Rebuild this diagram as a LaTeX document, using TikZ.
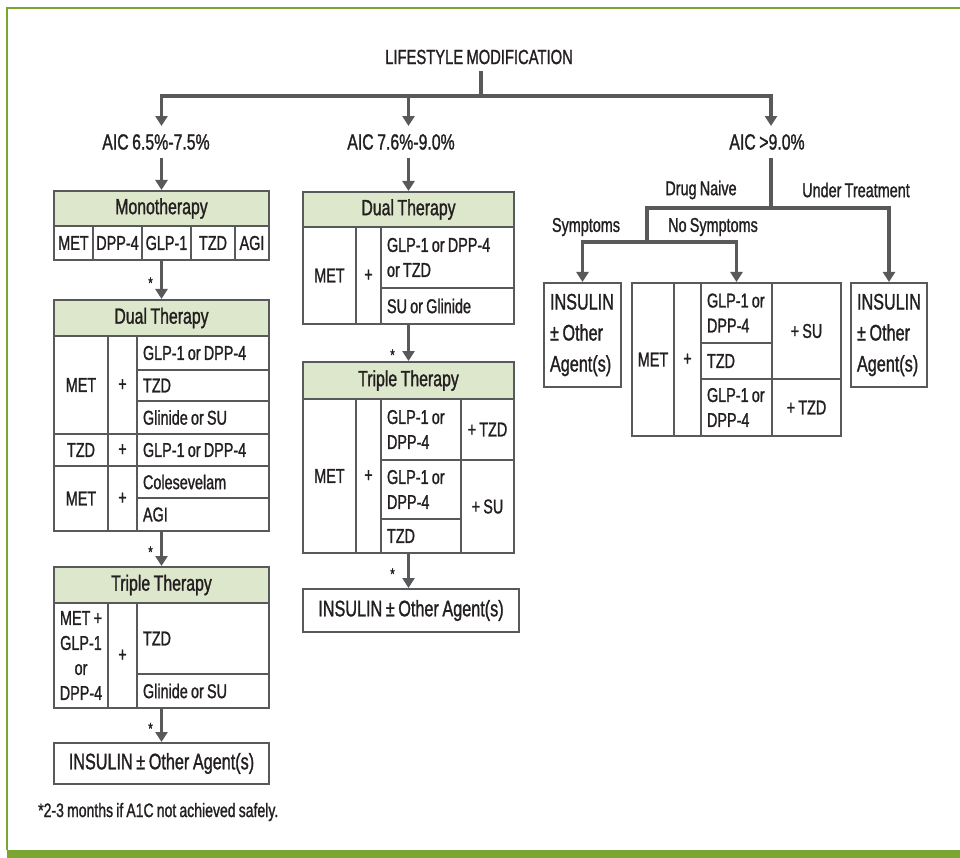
\documentclass[tikz,border=0pt]{standalone}
\usepackage{fontspec}
\setmainfont[FakeStretch=0.72,WordSpace=0.8,FakeBold=1.2]{Liberation Sans}
\usepackage{tikz}
\usetikzlibrary{arrows.meta,positioning,calc}

\definecolor{framegreen}{RGB}{122,165,48}
\definecolor{headgreen}{RGB}{221,231,203}
\definecolor{linegray}{RGB}{88,89,91}
\definecolor{textdark}{RGB}{35,31,32}

\newcommand\cellfont{\fontsize{20}{25}\selectfont}
\newcommand\headfont{\fontsize{22}{26}\selectfont}
\newcommand\aicfont{\fontsize{22}{26}\selectfont}
\newcommand\topfont{\fontsize{20.5}{24}\selectfont}
\newcommand\insfont{\fontsize{22.5}{31}\selectfont}
\newcommand\notefont{\fontsize{19.5}{22}\selectfont}
\newcommand\starfont{\fontsize{16}{18}\selectfont}
\newcommand\branchfont{\fontsize{20}{24}\selectfont}

\tikzset{
	cell/.style = {
		draw=linegray, 
		rectangle, 
		line width=2pt, 
		inner xsep=6pt, 
		inner ysep=0pt, 
		align=flush left, 
		text=textdark, 
		font=\cellfont
	},
	head/.style = {
		fill=headgreen, 
		font=\headfont
	},
	ins/.style = {
		font=\insfont
	},
	branch/.style = {
		draw=linegray, 
		line width=3.5pt
	},
	flow/.style = {
		branch, 
		-{Triangle[width=12pt,length=10pt]}
	},
	aic/.style = {
		text=textdark, 
		font=\aicfont, 
		inner xsep=0pt, 
		inner ysep=8pt
	},
	choice/.style = {
		text=textdark, 
		font=\branchfont, 
		inner sep=0pt
	},
	star/.style = {
		text=textdark, 
		font=\starfont, 
		inner sep=0pt, 
		yshift=-3pt
	}
}

% cell with left aligned text: [options]{name}{x1}{y1}{x2}{y2}{text}
\newcommand{\tcell}[7][]{%
	\pgfmathsetmacro{\tcw}{#5-#3-12}%
	\pgfmathsetmacro{\tch}{#6-#4}%
	\node[cell,#1,text width=\tcw pt,minimum height=\tch pt] (#2) at ({(#3+#5)/2},{(#4+#6)/2}) {#7};}
% cell with centred text
\newcommand{\ccell}[7][]{%
	\pgfmathsetmacro{\tcw}{#5-#3}%
	\pgfmathsetmacro{\tch}{#6-#4}%
	\node[cell,align=center,inner xsep=0pt,#1,minimum width=\tcw pt,minimum height=\tch pt] (#2) at ({(#3+#5)/2},{(#4+#6)/2}) {#7};}

\begin{document}
\begin{tikzpicture}[x=1pt,y=-1pt]
	
	\useasboundingbox (0,0) rectangle (960,858);
	
	% --- FRAME ---
	\fill[framegreen] (7,850) rectangle (960,858);
	\draw[framegreen, line width=1.5pt] (7,850) -- (7,8) -- (960,8);
	
	% --- TOP LEVEL ---
	\node[aic, font=\topfont, inner ysep=7pt] (lifestyle) at (479,57) {LIFESTYLE MODIFICATION};
	\node[aic] (aic1) at (156,142) {AIC 6.5\%-7.5\%};
	\node[aic] (aic2) at (401,142) {AIC 7.6\%-9.0\%};
	\node[aic] (aic3) at (767,142) {AIC >9.0\%};
	
	% --- LEFT COLUMN: AIC 6.5%-7.5% ---
	% Monotherapy
	\ccell[head]{monoH}{54}{191}{269}{226}{Monotherapy}
	\ccell{mono1}{54}{226}{93}{260}{MET}
	\ccell{mono2}{93}{226}{142}{260}{DPP-4}
	\ccell{mono3}{142}{226}{191}{260}{GLP-1}
	\ccell{mono4}{191}{226}{235}{260}{TZD}
	\ccell{mono5}{235}{226}{269}{260}{AGI}
	
	% Dual therapy
	\ccell[head]{dualH}{54}{300}{269}{336}{Dual Therapy}
	\ccell{dualA}{54}{336}{108}{434}{MET}
	\ccell{dualAp}{108}{336}{137}{434}{+}
	\tcell{dualA1}{137}{336}{269}{370}{GLP-1 or DPP-4}
	\tcell{dualA2}{137}{370}{269}{401}{TZD}
	\tcell{dualA3}{137}{401}{269}{434}{Glinide or SU}
	\ccell{dualB}{54}{434}{108}{466}{TZD}
	\ccell{dualBp}{108}{434}{137}{466}{+}
	\tcell{dualB1}{137}{434}{269}{466}{GLP-1 or DPP-4}
	\ccell{dualC}{54}{466}{108}{531}{MET}
	\ccell{dualCp}{108}{466}{137}{531}{+}
	\tcell{dualC1}{137}{466}{269}{498}{Colesevelam}
	\tcell{dualC2}{137}{498}{269}{531}{AGI}
	
	% Triple therapy
	\ccell[head]{tripH}{54}{567}{269}{603}{Triple Therapy}
	\ccell{tripA}{54}{603}{108}{708}{MET +\\GLP-1\\or\\DPP-4}
	\ccell{tripAp}{108}{603}{137}{708}{+}
	\tcell{tripA1}{137}{603}{269}{674}{TZD}
	\tcell{tripA2}{137}{674}{269}{708}{Glinide or SU}
	
	% Insulin
	\ccell[ins]{insL}{54}{743}{269}{784}{INSULIN ± Other Agent(s)}
	
	% --- MIDDLE COLUMN: AIC 7.6%-9.0% ---
	\ccell[head]{dual2H}{303}{192}{514}{227}{Dual Therapy}
	\ccell{dual2A}{303}{227}{356}{324}{MET}
	\ccell{dual2Ap}{356}{227}{381}{324}{+}
	\tcell{dual2A1}{381}{227}{514}{288}{GLP-1 or DPP-4\\or TZD}
	\tcell{dual2A2}{381}{288}{514}{324}{SU or Glinide}
	
	\ccell[head]{trip2H}{303}{362}{514}{399}{Triple Therapy}
	\ccell{trip2A}{303}{399}{356}{553}{MET}
	\ccell{trip2Ap}{356}{399}{381}{553}{+}
	\tcell{trip2A1}{381}{399}{461}{460}{GLP-1 or\\DPP-4}
	\ccell{trip2T}{461}{399}{514}{460}{+ TZD}
	\tcell{trip2A2}{381}{460}{461}{519}{GLP-1 or\\DPP-4}
	\tcell{trip2A3}{381}{519}{461}{553}{TZD}
	\ccell{trip2S}{461}{460}{514}{553}{+ SU}
	
	\ccell[ins]{insM}{303}{589}{519}{632}{INSULIN ± Other Agent(s)}
	
	% --- RIGHT COLUMN: AIC >9.0% ---
	\node[choice] (naiveL) at (701,190) {Drug Naive};
	\node[choice] (treatL) at (856,190) {Under Treatment};
	\node[choice] (symL) at (586,227) {Symptoms};
	\node[choice] (nosymL) at (713,227) {No Symptoms};
	
	\tcell[ins]{insS}{544}{283}{621}{387}{INSULIN\\± Other\\Agent(s)}
	\ccell{combA}{632}{283}{674}{436}{MET}
	\ccell{combAp}{674}{283}{701}{436}{+}
	\tcell{combA1}{701}{283}{772}{343}{GLP-1 or\\DPP-4}
	\tcell{combA2}{701}{343}{772}{379}{TZD}
	\tcell{combA3}{701}{379}{772}{436}{GLP-1 or\\DPP-4}
	\ccell{combS}{772}{283}{841}{379}{+ SU}
	\ccell{combT}{772}{379}{841}{436}{+ TZD}
	\tcell[ins]{insR}{851}{283}{927}{387}{INSULIN\\± Other\\Agent(s)}
	
	% --- CONNECTORS ---
	\coordinate (split) at (481,96);
	\draw[branch] (split |- lifestyle.south) -- (split);
	\draw[flow] (split) -| (monoH.north |- aic1.north);
	\draw[flow] (split) -| (dual2H.north |- aic2.north);
	\draw[flow] (split) -| (771,0 |- aic3.north);
	
	% left column
	\draw[flow] (monoH.north |- aic1.south) -- (monoH.north);
	\draw[flow] (monoH.center |- mono3.south) -- node[star, left=7pt] (star1) {*} (dualH.north);
	\draw[flow] (dualH.center |- dualC2.south) -- node[star, left=7pt] (star2) {*} (tripH.north);
	\draw[flow] (tripH.center |- tripA2.south) -- node[star, left=7pt] (star3) {*} (insL.north);
	
	% middle column
	\draw[flow] (dual2H.north |- aic2.south) -- (dual2H.north);
	\draw[flow] (dual2H.center |- dual2A2.south) -- node[star, pos=0.75, left=12pt] (star4) {*} (trip2H.north);
	\draw[flow] (trip2H.center |- trip2A3.south) -- node[star, left=12pt] (star5) {*} (trip2H.center |- insM.north);
	
	% right column
	\coordinate (naive) at (771,208);
	\coordinate (sympt) at (647,242);
	\draw[branch] (naive |- aic3.south) -- (naive);
	\draw[flow] (naive) -| (insR.north);
	\draw[branch] (naive) -| (sympt);
	\draw[flow] (sympt) -| (insS.north);
	\draw[flow] (sympt) -| (combA1.north);
	
	% --- FOOTNOTE ---
	\node[text=textdark, font=\notefont, anchor=west, inner sep=0pt] (note) at (38,812) {*2-3 months if A1C not achieved safely.};
	
\end{tikzpicture}
\end{document}
